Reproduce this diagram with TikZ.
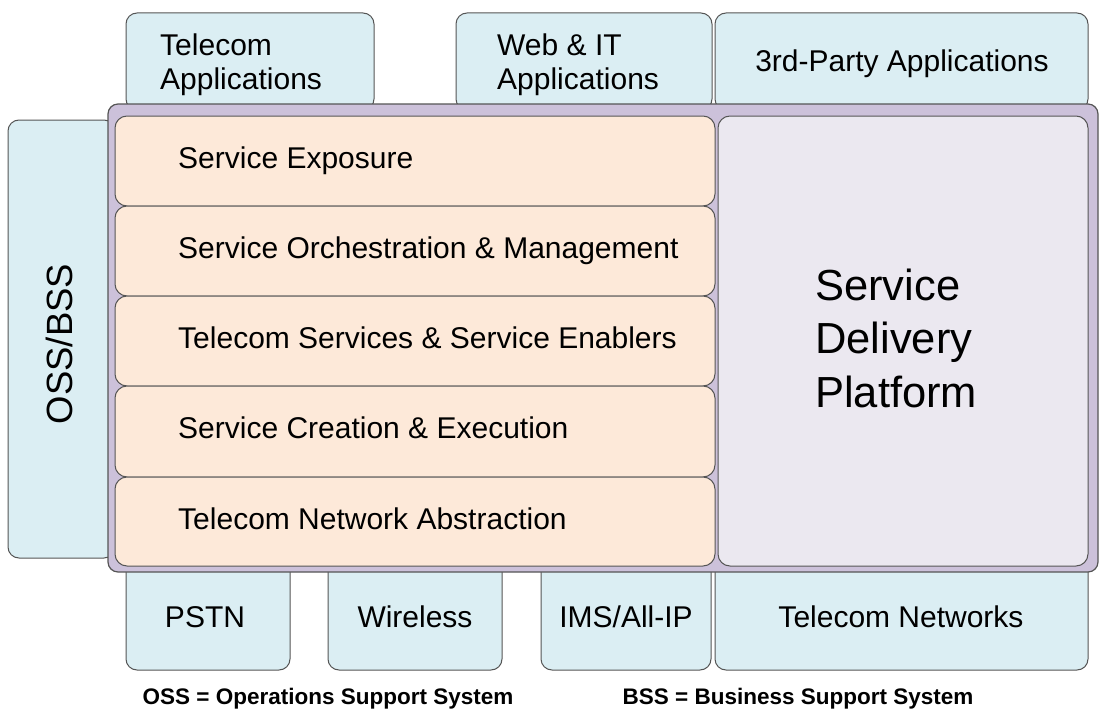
\documentclass[tikz,border=0pt]{standalone}
\usepackage{fontspec}
\setmainfont{Liberation Sans}
\definecolor{appblue}{HTML}{DBEEF3}
\definecolor{layerorange}{HTML}{FDE9D9}
\definecolor{framepurple}{HTML}{CCC1DA}
\definecolor{sdplilac}{HTML}{EBE8F0}
\definecolor{edgegray}{HTML}{555555}
\tikzset{
  appbox/.style={draw=edgegray, fill=appblue, line width=1pt, rounded corners=11pt},
  layerbox/.style={draw=edgegray, fill=layerorange, line width=1pt, rounded corners=12pt},
  label/.style={inner sep=0pt, font=\fontsize{30}{35}\selectfont},
  foot/.style={inner sep=0pt, font=\fontsize{22.5}{26}\selectfont\bfseries}
}
\begin{document}
\begin{tikzpicture}[x=1pt,y=-1pt]
\useasboundingbox (0,0) rectangle (1101,709);

% applications on top
\draw[appbox] (126,110) rectangle (374,13);
\draw[appbox] (456,110) rectangle (712,13);
\draw[appbox] (715,110) rectangle (1088,13);
\node[label, anchor=base west, align=left] (telapp) at (160,90) {Telecom\\Applications};
\node[label, anchor=base west, align=left] (webapp) at (497,90) {Web \& IT\\Applications};
\node[label, anchor=base] (thirdapp) at (902,72) {3rd-Party Applications};

% OSS/BSS at the side
\draw[appbox] (115,120) rectangle (8,558);
\node[label, font=\fontsize{36.5}{40}\selectfont, anchor=base, rotate=90] (ossbss) at (72,344) {OSS/BSS};

% networks below
\draw[appbox] (126,560) rectangle (290,670);
\draw[appbox] (328,560) rectangle (502,670);
\draw[appbox] (541,560) rectangle (711,670);
\draw[appbox] (715,560) rectangle (1088,670);
\node[label, anchor=base] (pstn) at (205,627) {PSTN};
\node[label, anchor=base] (wireless) at (415,627) {Wireless};
\node[label, anchor=base] (ims) at (626,627) {IMS/All-IP};
\node[label, anchor=base] (telnet) at (901,627) {Telecom Networks};

% the platform
\draw[draw=edgegray, fill=framepurple, line width=1.2pt, rounded corners=10pt] (108,104) rectangle (1098,572);
\draw[layerbox] (115,116) rectangle (715,206);
\draw[layerbox] (115,206) rectangle (715,296);
\draw[layerbox] (115,296) rectangle (715,386);
\draw[layerbox] (115,386) rectangle (715,477);
\draw[layerbox] (115,477) rectangle (715,566);
\draw[layerbox, fill=sdplilac] (718,116) rectangle (1088,566);

\node[label, anchor=base west] (exposure) at (178,168) {Service Exposure};
\node[label, anchor=base west] (orch) at (178,258) {Service Orchestration \& Management};
\node[label, anchor=base west] (enablers) at (178,348) {Telecom Services \& Service Enablers};
\node[label, anchor=base west] (creation) at (178,438) {Service Creation \& Execution};
\node[label, anchor=base west] (abstraction) at (178,529) {Telecom Network Abstraction};
\node[label, font=\fontsize{43.5}{53.5}\selectfont, anchor=base west, align=left] (sdp) at (815,407) {Service\\Delivery\\Platform};

% footnotes
\node[foot, anchor=base] (ossnote) at (328,704) {OSS = Operations Support System};
\node[foot, anchor=base] (bssnote) at (798,704) {BSS = Business Support System};
\end{tikzpicture}
\end{document}
